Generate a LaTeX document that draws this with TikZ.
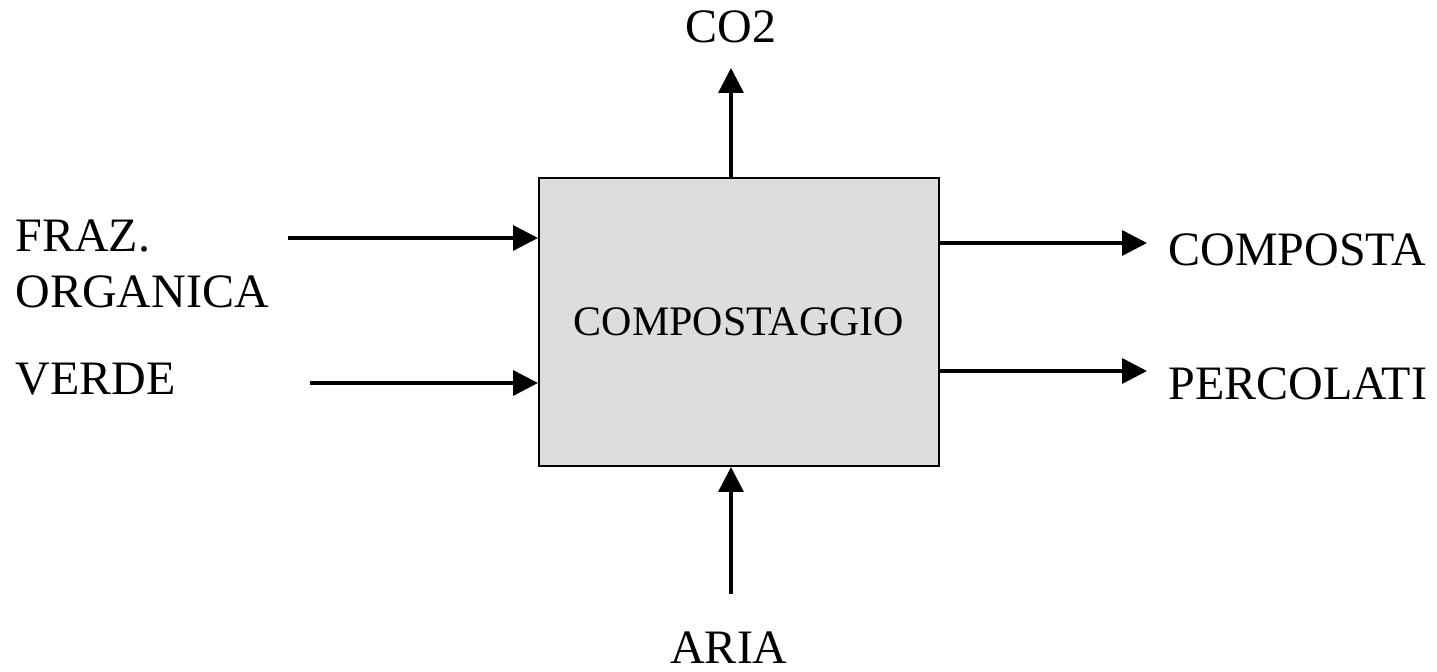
\documentclass[tikz,border=0pt]{standalone}
\usepackage{fontspec}
\setmainfont{Liberation Serif}
\usetikzlibrary{arrows.meta}

\definecolor{boxgray}{HTML}{DDDDDD}

\begin{document}
\begin{tikzpicture}
[
	x=0.5pt,
	y=-0.5pt,
	procbox/.style={draw,line width=1pt,fill=boxgray,inner sep=0pt,minimum width=200pt,minimum height=144pt,font=\fontsize{21}{25}\selectfont},
	labeltxt/.style={inner sep=0pt,font=\fontsize{24}{28}\selectfont},
	flow/.style={line width=1.75pt,-{Triangle[length=12.5pt,width=12.5pt]}}
]

	\useasboundingbox (0,0) rectangle (1437,672);

	% box
	\node[procbox] (comp) at (739,322) {COMPOSTAGGIO};

	% labels
	\node[labeltxt,anchor=base] (co2) at (731,43) {CO2};
	\node[labeltxt,anchor=base west,align=left] (fraz) at (15,308) {FRAZ.\\ORGANICA};
	\node[labeltxt,anchor=base west] (verde) at (15,395) {VERDE};
	\node[labeltxt,anchor=base west] (composta) at (1168,266) {COMPOSTA};
	\node[labeltxt,anchor=base west] (percolati) at (1168,400) {PERCOLATI};
	\node[labeltxt,anchor=base] (aria) at (729,664) {ARIA};

	% free ends of the arrows
	\coordinate (frazin) at (288,238);
	\coordinate (verdein) at (310,383);
	\coordinate (co2out) at (731,68);
	\coordinate (compout) at (1147,243);
	\coordinate (percout) at (1147,371);
	\coordinate (ariain) at (731,594);

	% inputs
	\draw[flow] (frazin) -- (frazin -| comp.west);
	\draw[flow] (verdein) -- (verdein -| comp.west);
	\draw[flow] (ariain) -- (ariain |- comp.south);

	% outputs
	\draw[flow] (co2out |- comp.north) -- (co2out);
	\draw[flow] (compout -| comp.east) -- (compout);
	\draw[flow] (percout -| comp.east) -- (percout);

\end{tikzpicture}
\end{document}
